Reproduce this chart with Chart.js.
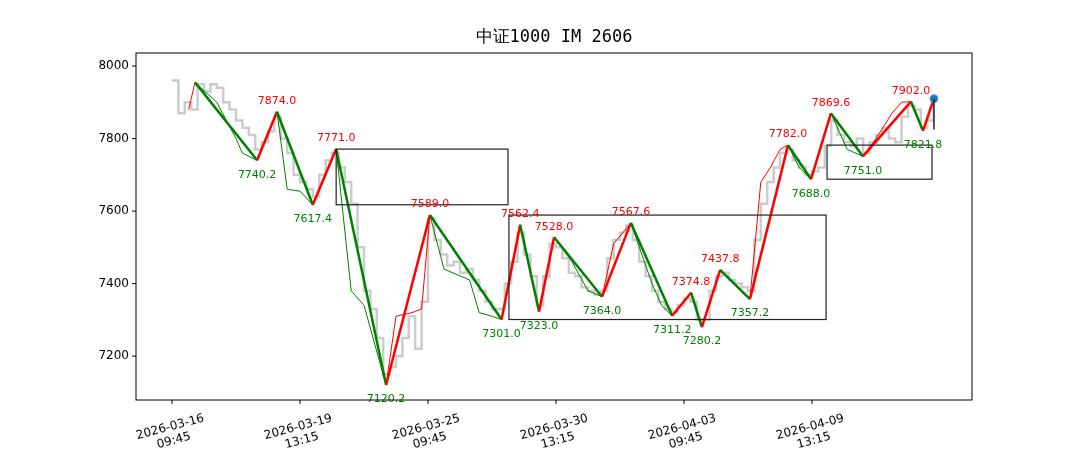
<!DOCTYPE html>
<html><head><meta charset="utf-8">
<script src="https://cdn.jsdelivr.net/npm/chart.js@4"></script>
<style>body{margin:0;background:#fff}#w{width:1080px;height:450px}</style>
</head><body><div id="w"><canvas id="c"></canvas></div>
<script>
const tickIdx=[0,40,80,120,160,200];
const tickLabels=[["2026-03-16","09:45"],["2026-03-19","13:15"],["2026-03-25","09:45"],["2026-03-30","13:15"],["2026-04-03","09:45"],["2026-04-09","13:15"]];
const yTicks=[7200,7400,7600,7800,8000];
const grayStart=0, grayStep=2;
const grayVals=[7960,7870,7900,7880,7950,7930,7950,7940,7900,7880,7850,7830,7810,7770,7790,7820,7860,7800,7760,7700,7680,7660,7640,7700,7740,7760,7720,7680,7620,7500,7380,7330,7250,7150,7170,7200,7250,7310,7220,7350,7580,7520,7480,7450,7460,7430,7440,7410,7380,7350,7330,7330,7400,7460,7540,7480,7420,7340,7420,7510,7500,7470,7430,7420,7390,7380,7370,7380,7470,7520,7540,7560,7520,7460,7420,7380,7350,7330,7320,7340,7360,7350,7300,7300,7380,7420,7430,7410,7400,7390,7380,7520,7620,7680,7720,7760,7770,7740,7720,7700,7710,7720,7780,7850,7810,7790,7780,7800,7760,7790,7810,7830,7800,7790,7860,7890,7880,7830,7850,7900];
const thinX=[5.2,7.2,14,20,22,26.6,32.8,36,40,44,51.3,56,60,66.9,70,75,78,80.6,85,93,96,100,103,108.8,114.7,119.4,125,130,134.4,138,143.4,150,153,156.3,162.2,165.6,171.3,180.6,184,187,190,192.5,196,199.7,205.9,211,215.9,220,225,228,230.9,234.7,238.1];
const thinY=[7880,7955,7900,7800,7760,7740,7874,7660,7655,7617,7771,7380,7340,7120,7310,7320,7330,7589,7440,7410,7320,7310,7301,7562,7323,7528,7460,7380,7364,7510,7567,7400,7340,7311,7375,7280,7438,7357,7680,7720,7770,7782,7720,7688,7870,7770,7751,7800,7870,7900,7902,7822,7910];
const pivX=[7.2,26.6,32.8,44,51.3,66.9,80.6,103,108.8,114.7,119.4,134.4,143.4,156.3,162.2,165.6,171.3,180.6,192.5,199.7,205.9,215.9,230.9,234.7,238.1];
const pivY=[7955,7740.2,7874.0,7617.4,7771.0,7120.2,7589.0,7301.0,7562.4,7323.0,7528.0,7364.0,7567.6,7311.2,7374.8,7280.2,7437.8,7357.2,7782.0,7688.0,7869.6,7751.0,7902.0,7821.8,7910];
const boxes=[[51.3,105,7771.0,7617.4],[105.3,204.4,7589.0,7301.0],[204.7,237.5,7782.0,7688.0]];
const lastX=238.1,lastY=7910,lastLow=7825;
const RED='#ff0000',GREEN='#008000';
const dirColor=ctx=>ctx.p1.parsed.y>=ctx.p0.parsed.y?RED:GREEN;
const ann={id:'ann',afterDatasetsDraw(ch){
 const c=ch.ctx,x=ch.scales.x,y=ch.scales.y,a=ch.chartArea;
 c.save();
 c.strokeStyle='#222';c.lineWidth=1.2;
 boxes.forEach(b=>{c.strokeRect(x.getPixelForValue(b[0]),y.getPixelForValue(b[2]),x.getPixelForValue(b[1])-x.getPixelForValue(b[0]),y.getPixelForValue(b[3])-y.getPixelForValue(b[2]));});
 c.beginPath();c.moveTo(x.getPixelForValue(lastX),y.getPixelForValue(lastY));c.lineTo(x.getPixelForValue(lastX),y.getPixelForValue(lastLow));c.lineWidth=1.5;c.stroke();
 c.font='11px "DejaVu Sans"';c.textAlign='center';
 for(let i=1;i<pivX.length-1;i++){
  const px=x.getPixelForValue(pivX[i]),py=y.getPixelForValue(pivY[i]);
  const peak=pivY[i]>pivY[i-1];
  c.fillStyle=peak?RED:GREEN;
  c.textBaseline=peak?'bottom':'top';
  c.fillText(pivY[i].toFixed(1),px,peak?py-5:py+9);
 }
 c.strokeStyle='#000';c.lineWidth=1;c.strokeRect(a.left,a.top,a.right-a.left,a.bottom-a.top);
 c.fillStyle='#000';c.font='12px "DejaVu Sans"';
 tickIdx.forEach((v,i)=>{const px=x.getPixelForValue(v);
  c.beginPath();c.moveTo(px,a.bottom);c.lineTo(px,a.bottom+4);c.stroke();
  c.save();c.translate(px,a.bottom+34);c.rotate(-15*Math.PI/180);c.textAlign='center';c.textBaseline='middle';
  c.fillText(tickLabels[i][0],0,-7);c.fillText(tickLabels[i][1],0,7);c.restore();});
 yTicks.forEach(v=>{const py=y.getPixelForValue(v);c.beginPath();c.moveTo(a.left-4,py);c.lineTo(a.left,py);c.stroke();
  c.textAlign='right';c.textBaseline='middle';c.fillText(String(v),a.left-7,py);});
 c.font='17px "DejaVu Sans Mono"';c.textAlign='center';c.textBaseline='middle';
 c.fillText('中证1000 IM 2606',(a.left+a.right)/2,38);
 c.restore();}};
new Chart(document.getElementById('c'),{
 type:'line',
 data:{datasets:[
  {data:pivY.map((v,i)=>({x:pivX[i],y:v})),borderWidth:2.5,segment:{borderColor:dirColor},pointRadius:0,order:1},
  {data:thinY.map((v,i)=>({x:thinX[i],y:v})),borderWidth:1,segment:{borderColor:dirColor},pointRadius:0,order:2},
  {data:grayVals.map((v,i)=>({x:grayStart+i*grayStep,y:v})),borderColor:'#cccccc',borderWidth:2.5,stepped:true,pointRadius:0,order:3},
  {data:[{x:lastX,y:lastY}],pointRadius:4,pointBackgroundColor:'#1f77b4',pointBorderColor:'#5599dd',showLine:false,order:0}
 ]},
 options:{animation:false,responsive:true,maintainAspectRatio:false,
  layout:{padding:{top:53,right:108,left:0,bottom:0}},
  plugins:{legend:{display:false},tooltip:{enabled:false}},
  scales:{
   x:{type:'linear',min:-11.25,max:250,grid:{display:false},border:{display:false},
    afterFit:s=>{s.height=50;},ticks:{display:false}},
   y:{min:7079,max:8036,grid:{display:false},border:{display:false},
    afterFit:s=>{s.width=136;},ticks:{display:false}}
  }},
 plugins:[ann]});
</script></body></html>
